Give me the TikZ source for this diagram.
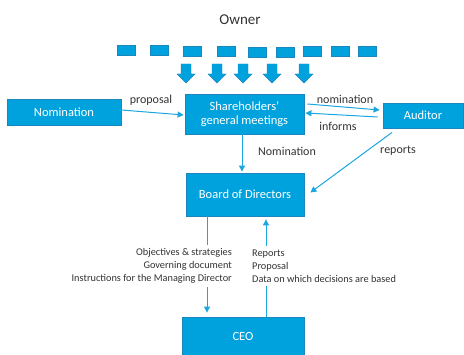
\documentclass[tikz,border=0pt]{standalone}
\usepackage{fontspec}
\setmainfont{Carlito}
\usetikzlibrary{arrows.meta}
\definecolor{boxblue}{HTML}{00A2DE}
\definecolor{boxedge}{HTML}{1B86BE}
\definecolor{lineblue}{HTML}{1BA6E0}
\definecolor{txt}{HTML}{333333}
\tikzset{
  box/.style={draw=boxedge, line width=0.8pt, fill=boxblue, text=white, font=\fontsize{12.5}{15}\selectfont, align=center, inner sep=0pt},
  lbl/.style={text=txt, font=\fontsize{12}{14}\selectfont, inner sep=1pt},
  smalllbl/.style={text=txt, font=\fontsize{10.3}{13}\selectfont, fill=white, inner sep=4pt},
  conn/.style={draw=lineblue, line width=1pt, -{Triangle[length=6pt,width=6pt]}},
  tinyrect/.style={draw=boxedge, line width=0.6pt, fill=boxblue},
  blockarrow/.style={fill=boxblue, draw=boxedge, line width=0.4pt}
}
\begin{document}
\begin{tikzpicture}[x=1pt,y=-1pt]
\useasboundingbox (0,0) rectangle (464,355);
\node[text=txt, font=\fontsize{15}{18}\selectfont] (owner) at (240,20) {Owner};
\foreach \a/\t in {117/45,150/45,183/46,217/46,248/47,276/47,303/46,331/46,358/46}{
  \path[tinyrect] (\a,\t) rectangle ++(18,10.5);
}
\foreach \c in {186,217,243,272,304}{
  \path[blockarrow] (\c-5,64) -- (\c+5,64) -- (\c+5,74) -- (\c+9,74) -- (\c,83) -- (\c-9,74) -- (\c-5,74) -- cycle;
}
\node[box, minimum width=114pt, minimum height=26pt] (nom) at (64,112) {Nomination};
\node[box, minimum width=119pt, minimum height=40pt] (sh) at (244.5,114) {Shareholders'\\[-1pt]general meetings};
\node[box, minimum width=80pt, minimum height=25pt] (aud) at (423,115.5) {Auditor};
\node[box, minimum width=118pt, minimum height=43pt] (board) at (245,194.5) {Board of Directors};
\node[box, minimum width=122pt, minimum height=39pt] (ceo) at (243,336.5) {CEO};

\draw[conn] ([yshift=2pt]nom.east) -- ([yshift=-1pt,xshift=-1pt]sh.west);
\node[lbl] (lprop) at (151,100) {proposal};
\draw[conn] ([yshift=10pt,xshift=3pt]sh.east) -- ([yshift=5.5pt,xshift=-3pt]aud.west);
\node[lbl] (lnom) at (345,99) {nomination};
\draw[conn] ([yshift=-1.5pt,xshift=-5pt]aud.west) -- ([yshift=1pt,xshift=1pt]sh.east);
\node[lbl] (linf) at (338,126) {informs};
\draw[conn] ([xshift=-31pt,yshift=-4pt]aud.south) -- ([xshift=6pt,yshift=2pt]board.east);
\node[lbl] (lrep) at (398,151) {reports};
\draw[conn] ([xshift=-2.5pt]sh.south) -- ([xshift=-3pt,yshift=1pt]board.north);
\node[lbl] (lnom2) at (287,151) {Nomination};
\draw[conn, shorten >=4pt] ([xshift=-38pt]board.south) -- ([xshift=-36pt]ceo.north);
\draw[conn, shorten >=3pt] ([xshift=23pt]ceo.north) -- ([xshift=21pt]board.south);
\node[smalllbl, align=right, anchor=east] (lleft) at (236,266) {Objectives \& strategies\\Governing document\\Instructions for the Managing Director};
\node[smalllbl, align=left, anchor=west] (lright) at (248,266) {Reports\\Proposal\\Data on which decisions are based};
\end{tikzpicture}
\end{document}
